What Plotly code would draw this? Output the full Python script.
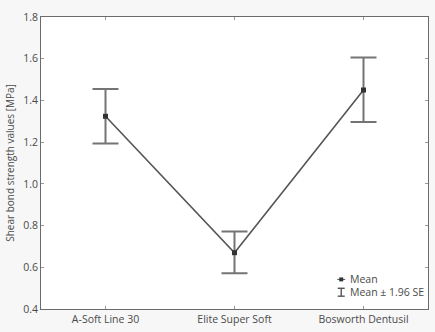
import plotly.graph_objects as go

categories = ["A-Soft Line 30", "Elite Super Soft", "Bosworth Dentusil"]
means = [1.324, 0.670, 1.450]
upper = [1.455, 0.772, 1.606]
lower = [1.193, 0.572, 1.297]
y_ticks = [0.4, 0.6, 0.8, 1.0, 1.2, 1.4, 1.6, 1.8]

err_plus = [u - m for u, m in zip(upper, means)]
err_minus = [m - l for m, l in zip(means, lower)]

font = "Open Sans, Noto Sans, sans-serif"
axis_col = "#6b6b6b"
text_col = "#4a4a4a"

fig = go.Figure()
fig.add_trace(go.Scatter(
    x=list(range(len(categories))), y=means,
    mode="lines+markers",
    line=dict(color="#555555", width=1.6),
    marker=dict(symbol="square", size=5, color="#333333"),
    error_y=dict(type="data", symmetric=False, array=err_plus, arrayminus=err_minus,
                 color="#747474", thickness=2, width=13),
    showlegend=False,
))

fig.update_layout(
    width=435, height=332,
    margin=dict(l=41, r=6, t=17, b=19),
    paper_bgcolor="#f7f7f7",
    plot_bgcolor="#ffffff",
    font=dict(family=font, size=10, color=text_col),
    xaxis=dict(
        range=[-0.5, 2.5], tickmode="array", tickvals=list(range(len(categories))),
        ticktext=categories, showgrid=False, zeroline=False,
        showline=True, linecolor=axis_col, linewidth=1, mirror="ticks",
        ticks="inside", ticklen=3, tickcolor="#999999",
        tickfont=dict(size=10.5, color=text_col),
    ),
    yaxis=dict(
        range=[0.4, 1.8], tickmode="array", tickvals=y_ticks,
        ticktext=[f"{v:.1f}" for v in y_ticks], showgrid=False, zeroline=False,
        showline=True, linecolor=axis_col, linewidth=1, mirror="ticks",
        ticks="inside", ticklen=3, tickcolor="#999999",
        tickfont=dict(size=10.5, color=text_col),
        title=dict(text="Shear bond strength values [MPa]", standoff=6,
                   font=dict(size=10, color=text_col)),
    ),
)

# legend drawn manually (paper coordinates)
pw = 435 - 41 - 6
ph = 332 - 17 - 19
def px(x):
    return (x - 41) / pw
def py(y):
    return (332 - 19 - y) / ph

shapes = []
shapes.append(dict(type="line", xref="paper", yref="paper",
                   x0=px(338), x1=px(346), y0=py(283), y1=py(283),
                   line=dict(color="#555555", width=1)))
shapes.append(dict(type="rect", xref="paper", yref="paper",
                   x0=px(340), x1=px(344), y0=py(285), y1=py(281),
                   line=dict(color="#333333", width=0), fillcolor="#333333"))
shapes.append(dict(type="line", xref="paper", yref="paper",
                   x0=px(342), x1=px(342), y0=py(292), y1=py(300),
                   line=dict(color="#555555", width=1.4)))
shapes.append(dict(type="line", xref="paper", yref="paper",
                   x0=px(338.5), x1=px(345.5), y0=py(292), y1=py(292),
                   line=dict(color="#555555", width=1.4)))
shapes.append(dict(type="line", xref="paper", yref="paper",
                   x0=px(338.5), x1=px(345.5), y0=py(300), y1=py(300),
                   line=dict(color="#555555", width=1.4)))
fig.update_layout(shapes=shapes)

fig.add_annotation(xref="paper", yref="paper", x=px(349), y=py(283),
                   text="Mean", showarrow=False, xanchor="left", yanchor="middle",
                   font=dict(size=10.5, color=text_col))
fig.add_annotation(xref="paper", yref="paper", x=px(349), y=py(296),
                   text="Mean ± 1.96 SE", showarrow=False, xanchor="left", yanchor="middle",
                   font=dict(size=10.5, color=text_col))

fig.write_html("out.html")
